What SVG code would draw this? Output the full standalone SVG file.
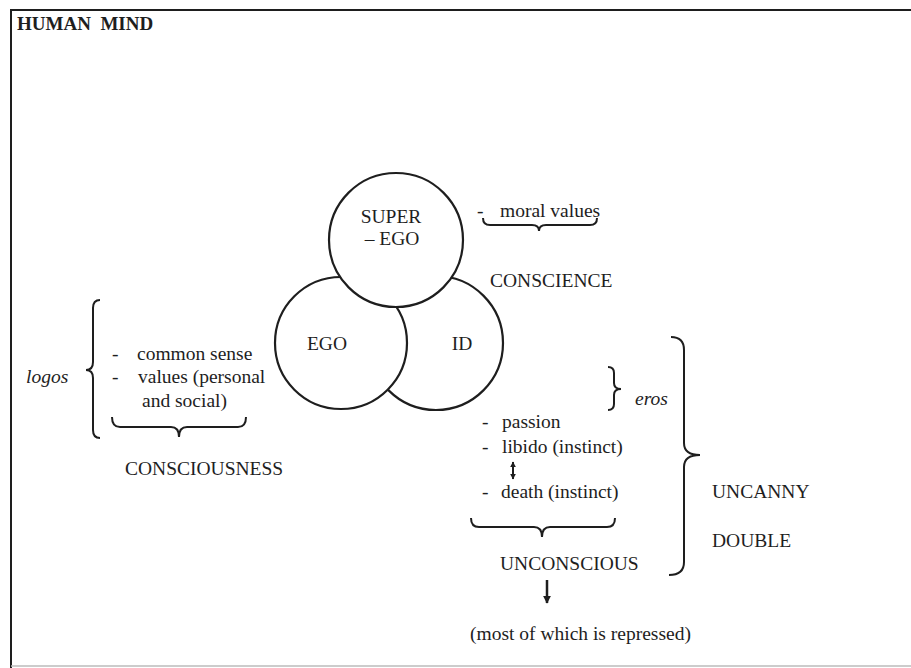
<svg xmlns="http://www.w3.org/2000/svg" width="911" height="668" viewBox="0 0 911 668">
<style>
text{font-family:"Liberation Serif","Times New Roman",serif;font-size:19.5px;fill:#1e1e1e}
.it{font-style:italic}
.b{font-weight:bold;font-size:19px}
.ln{fill:none;stroke:#1e1e1e;stroke-width:2}
.c{fill:#fff;stroke:#1e1e1e;stroke-width:2.2}
.mid{text-anchor:middle}
</style>
<defs>
<marker id="ah" viewBox="0 0 10 10" refX="9" refY="5" markerWidth="8" markerHeight="8" orient="auto-start-reverse" markerUnits="userSpaceOnUse"><path d="M0,0 L10,5 L0,10 Z" fill="#1e1e1e"/></marker>
<marker id="ahs" viewBox="0 0 10 10" refX="9" refY="5" markerWidth="6" markerHeight="6" orient="auto-start-reverse" markerUnits="userSpaceOnUse"><path d="M0,0 L10,5 L0,10 Z" fill="#1e1e1e"/></marker>
</defs>
<rect width="911" height="668" fill="#fff"/>
<g id="frame">
<path class="ln" d="M11,668 L11,10 L911,10"/>
<path d="M11,666 L911,666" stroke="#bbb" stroke-width="1.5" fill="none"/>
<text x="17" y="30" class="b" xml:space="preserve">HUMAN  MIND</text>
</g>
<g id="id"><circle class="c" cx="436" cy="343" r="67"/><text x="462" y="350" class="mid">ID</text></g>
<g id="ego"><circle class="c" cx="341" cy="343" r="66"/><text x="327" y="350" class="mid">EGO</text></g>
<g id="superego"><circle class="c" cx="396" cy="240" r="67"/><text x="391" y="223" class="mid">SUPER</text><text x="392" y="245" class="mid">– EGO</text></g>
<g id="conscience">
<text x="477" y="217">-</text><text x="500" y="217">moral values</text>
<text x="490" y="287">CONSCIENCE</text>
</g>
<g id="consciousness">
<text x="26" y="383" class="it">logos</text>
<text x="112" y="360">-</text><text x="137" y="360">common sense</text>
<text x="112" y="383">-</text><text x="138" y="383">values (personal</text>
<text x="142" y="407">and social)</text>
<text x="125" y="475">CONSCIOUSNESS</text>
</g>
<g id="unconscious">
<text x="635" y="405" class="it">eros</text>
<text x="482" y="428">-</text><text x="502" y="428">passion</text>
<text x="482" y="453">-</text><text x="502" y="453">libido (instinct)</text>
<text x="482" y="498">-</text><text x="501" y="498">death (instinct)</text>
<text x="500" y="570">UNCONSCIOUS</text>
<text x="470" y="640">(most of which is repressed)</text>
</g>
<g id="uncanny">
<text x="712" y="498">UNCANNY</text>
<text x="712" y="547">DOUBLE</text>
</g>
<g id="connectors">
<path class="ln" d="M100,300 Q93,300 93,308 L93,362 Q93,370 86,370 Q93,370 93,378 L93,430 Q93,438 100,438"/>
<path class="ln" d="M112,417 Q112,427 120,427 L171,427 Q179,427 179,437 Q179,427 187,427 L238,427 Q246,427 246,417"/>
<path class="ln" d="M483,218 Q483,225 490,225 L532,225 Q539,225 539,231 Q539,225 546,225 L590,225 Q597,225 597,218"/>
<path class="ln" d="M608,367 Q614,367 614,373 L614,383 Q614,389 621,389 Q614,389 614,395 L614,404 Q614,410 608,410"/>
<path class="ln" d="M471,518 Q471,527 479,527 L534,527 Q542,527 542,537 Q542,527 550,527 L607,527 Q615,527 615,518"/>
<path class="ln" d="M671,337 Q684,337 684,350 L684,443 Q684,455 700,455 Q684,455 684,467 L684,562 Q684,575 669,575"/>
<line x1="513" y1="462" x2="513" y2="479" stroke="#1e1e1e" stroke-width="2" marker-start="url(#ahs)" marker-end="url(#ahs)"/>
<line x1="547" y1="580" x2="547" y2="603" stroke="#1e1e1e" stroke-width="2.5" marker-end="url(#ah)"/>
</g>
</svg>
